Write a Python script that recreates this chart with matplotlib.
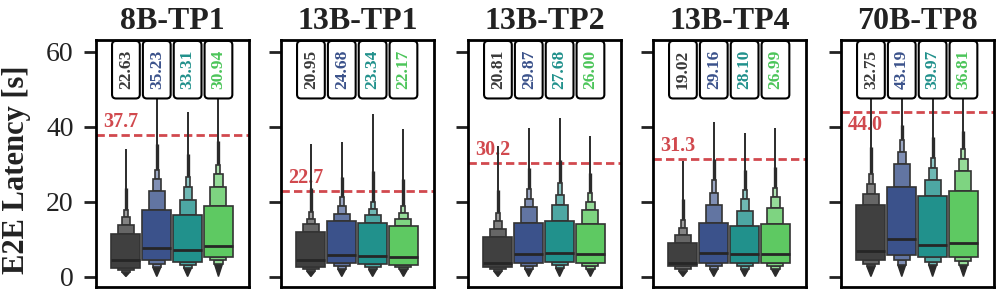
import matplotlib
matplotlib.use("Agg")
import matplotlib.pyplot as plt
import numpy as np
from matplotlib.colors import to_rgb
from matplotlib.patches import FancyBboxPatch

plt.rcParams['font.family'] = ['Liberation Serif', 'DejaVu Serif']

# --- datos ---
models = ["8B-TP1", "13B-TP1", "13B-TP2", "13B-TP4", "70B-TP8"]
colors = ["#404040", "#3b528b", "#21918c", "#5ec962"]
text_colors = ["#3a3a3a", "#3b528b", "#21918c", "#4cc55a"]

# cuartiles y mediana por panel (4 series cada uno)
q25 = [[2.4, 4.4, 4.0, 5.3],
       [2.5, 3.6, 3.4, 3.2],
       [2.5, 3.6, 4.0, 3.6],
       [2.7, 3.6, 3.6, 3.6],
       [4.3, 5.8, 5.2, 5.3]]
median = [[4.3, 7.6, 7.1, 8.2],
          [4.45, 5.8, 5.5, 5.3],
          [3.7, 6.05, 6.2, 6.05],
          [3.6, 6.2, 6.05, 6.05],
          [6.9, 10.0, 8.45, 9.07]]
q75 = [[11.3, 17.8, 16.4, 18.9],
       [12.0, 14.9, 14.2, 13.6],
       [10.5, 14.4, 14.9, 14.05],
       [9.07, 14.4, 13.5, 14.05],
       [19.1, 23.8, 21.5, 22.7]]
# niveles superiores (letter values) por encima de q75
upper_levels = [[[13.8, 15.8, 17.8], [22.7, 26.0, 28.5], [20.5, 24.0, 26.5], [24.0, 27.3, 29.8]],
                [[14.05, 15.3, 17.3], [16.7, 18.7, 21.3], [16.3, 18.0, 20.0], [15.4, 16.9, 18.7]],
                [[12.7, 14.7, 16.9], [18.5, 20.6, 23.3], [19.1, 21.8, 24.9], [17.8, 20.0, 22.2]],
                [[11.1, 12.9, 15.1], [19.1, 22.4, 25.8], [17.6, 20.6, 23.1], [18.2, 21.2, 23.6]],
                [[22.05, 24.7, 27.4], [30.05, 33.3, 36.5], [25.8, 28.9, 31.6], [28.2, 31.3, 33.9]]]
# niveles inferiores por debajo de q25
lower_levels = [[[1.8, 1.2], [3.4, 2.5], [3.1, 2.4], [4.3, 3.4]],
                [[2.0, 1.4], [2.7, 2.0], [2.5, 1.9], [2.5, 1.9]],
                [[2.0, 1.4], [2.85, 2.1], [3.1, 2.3], [2.85, 2.1]],
                [[2.0, 1.4], [2.7, 2.0], [2.7, 2.0], [2.7, 2.0]],
                [[3.4, 2.7], [4.45, 3.2], [4.0, 3.2], [4.2, 3.2]]]
vmax = [[34.1, 48.0, 44.0, 48.0],
        [35.4, 36.0, 43.4, 39.3],
        [34.7, 39.6, 42.2, 37.5],
        [30.9, 41.3, 38.4, 39.6],
        [48.0, 48.0, 48.0, 48.0]]
vmin = [[0.0, 0.0, 0.0, 0.0]] * 5
mean_labels = [["22.63", "35.23", "33.31", "30.94"],
               ["20.95", "24.68", "23.34", "22.17"],
               ["20.81", "29.87", "27.68", "26.00"],
               ["19.02", "29.16", "28.10", "26.99"],
               ["32.75", "43.19", "39.97", "36.81"]]
slo = [37.7, 22.7, 30.2, 31.3, 44.0]


def lighten(c, t):
    rgb = np.array(to_rgb(c))
    return tuple(rgb + (1 - rgb) * t)


W, H = 997, 293
fig = plt.figure(figsize=(W / 100, H / 100), dpi=100)

lefts_px = [96, 281, 468, 653, 841]
ax_w_px = 153
top_px, bot_px = 40, 287
ylim = (-2.8, 63.1)
xlim = (-0.97, 3.99)
box_w = 0.94
level_w = [1.0, 0.55, 0.28, 0.14]
level_t = [0.0, 0.2, 0.35, 0.5]
edge = "#333333"

for p, name in enumerate(models):
    ax = fig.add_axes([lefts_px[p] / W, 1 - bot_px / H, ax_w_px / W, (bot_px - top_px) / H])
    ax.set_xlim(*xlim)
    ax.set_ylim(*ylim)

    for i in range(4):
        c = colors[i]
        ups = upper_levels[p][i]
        lows = lower_levels[p][i]
        # linea fina hasta el maximo
        ax.plot([i, i], [ups[-1], vmax[p][i]], color="#2b2b2b", lw=1.4, zorder=2,
                solid_capstyle="butt")
        ax.plot([i, i], [ups[-1], ups[-1] + 0.35 * (vmax[p][i] - ups[-1])],
                color="#2b2b2b", lw=2.4, zorder=2, solid_capstyle="butt")
        # punta inferior
        tw = level_w[2] * box_w
        ax.fill([i - tw / 2, i + tw / 2, i], [lows[-1], lows[-1], vmin[p][i]],
                color="#2b2b2b", zorder=2)
        # niveles exteriores (de afuera hacia adentro)
        for k in range(len(ups), 0, -1):
            w = level_w[k] * box_w
            fc = lighten(c, level_t[k])
            top = ups[k - 1]
            base = q75[p][i] if k == 1 else ups[k - 2]
            ax.bar(i, top - base, bottom=base, width=w, color=fc, edgecolor=edge,
                   linewidth=1.2, zorder=3 + (4 - k))
            if k <= len(lows):
                lo = lows[k - 1]
                hi = q25[p][i] if k == 1 else lows[k - 2]
                ax.bar(i, hi - lo, bottom=lo, width=w, color=fc, edgecolor=edge,
                       linewidth=1.2, zorder=3 + (4 - k))
        # caja intercuartil
        ax.bar(i, q75[p][i] - q25[p][i], bottom=q25[p][i], width=box_w, color=c,
               edgecolor=edge, linewidth=1.2, zorder=8)
        ax.plot([i - box_w / 2, i + box_w / 2], [median[p][i]] * 2, color="#262626",
                lw=2.0, zorder=9, solid_capstyle="butt")

        # etiqueta de la media
        xpx = (xlim[1] - xlim[0]) / ax_w_px
        ypx = (ylim[1] - ylim[0]) / (bot_px - top_px)
        bw = 0.9
        patch = FancyBboxPatch((i - bw / 2, 47.5), bw, 62.85 - 47.5,
                               boxstyle="round,pad=0,rounding_size=%f" % (4 * xpx),
                               mutation_aspect=ypx / xpx,
                               facecolor="white", edgecolor="black", linewidth=1.5,
                               zorder=10, clip_on=False)
        ax.add_patch(patch)
        ax.text(i, 55.2, mean_labels[p][i], rotation=90, ha="center", va="center",
                fontsize=12.5, fontweight="bold", color=text_colors[i], zorder=11)

    # linea SLO
    ax.axhline(slo[p], color="#d1494e", lw=2, linestyle=(0, (3, 1.5)), zorder=1)
    if p == 4:
        ax.text(-0.74, slo[p] - 1.0, f"{slo[p]:.1f}", ha="left", va="top",
                fontsize=14.5, fontweight="bold", color="#d1494e", zorder=1)
    else:
        ax.text(-0.74, slo[p] + 0.8, f"{slo[p]:.1f}", ha="left", va="bottom",
                fontsize=14.5, fontweight="bold", color="#d1494e", zorder=1)

    ax.set_title(name, fontsize=23, fontweight="bold", color="#222222", pad=8)
    ax.set_xticks([])
    ax.set_yticks([0, 20, 40, 60])
    ax.tick_params(axis="y", length=9, width=2, labelsize=20, pad=7, colors="#222222")
    if p > 0:
        ax.tick_params(axis="y", labelleft=False)
    for s in ax.spines.values():
        s.set_linewidth(2)
        s.set_color("black")

fig.text(17 / W, 1 - 170 / H, "E2E Latency [s]", rotation=90, ha="center", va="center",
         fontsize=22, fontweight="bold", color="#222222")

fig.savefig("out.png", dpi=100)
